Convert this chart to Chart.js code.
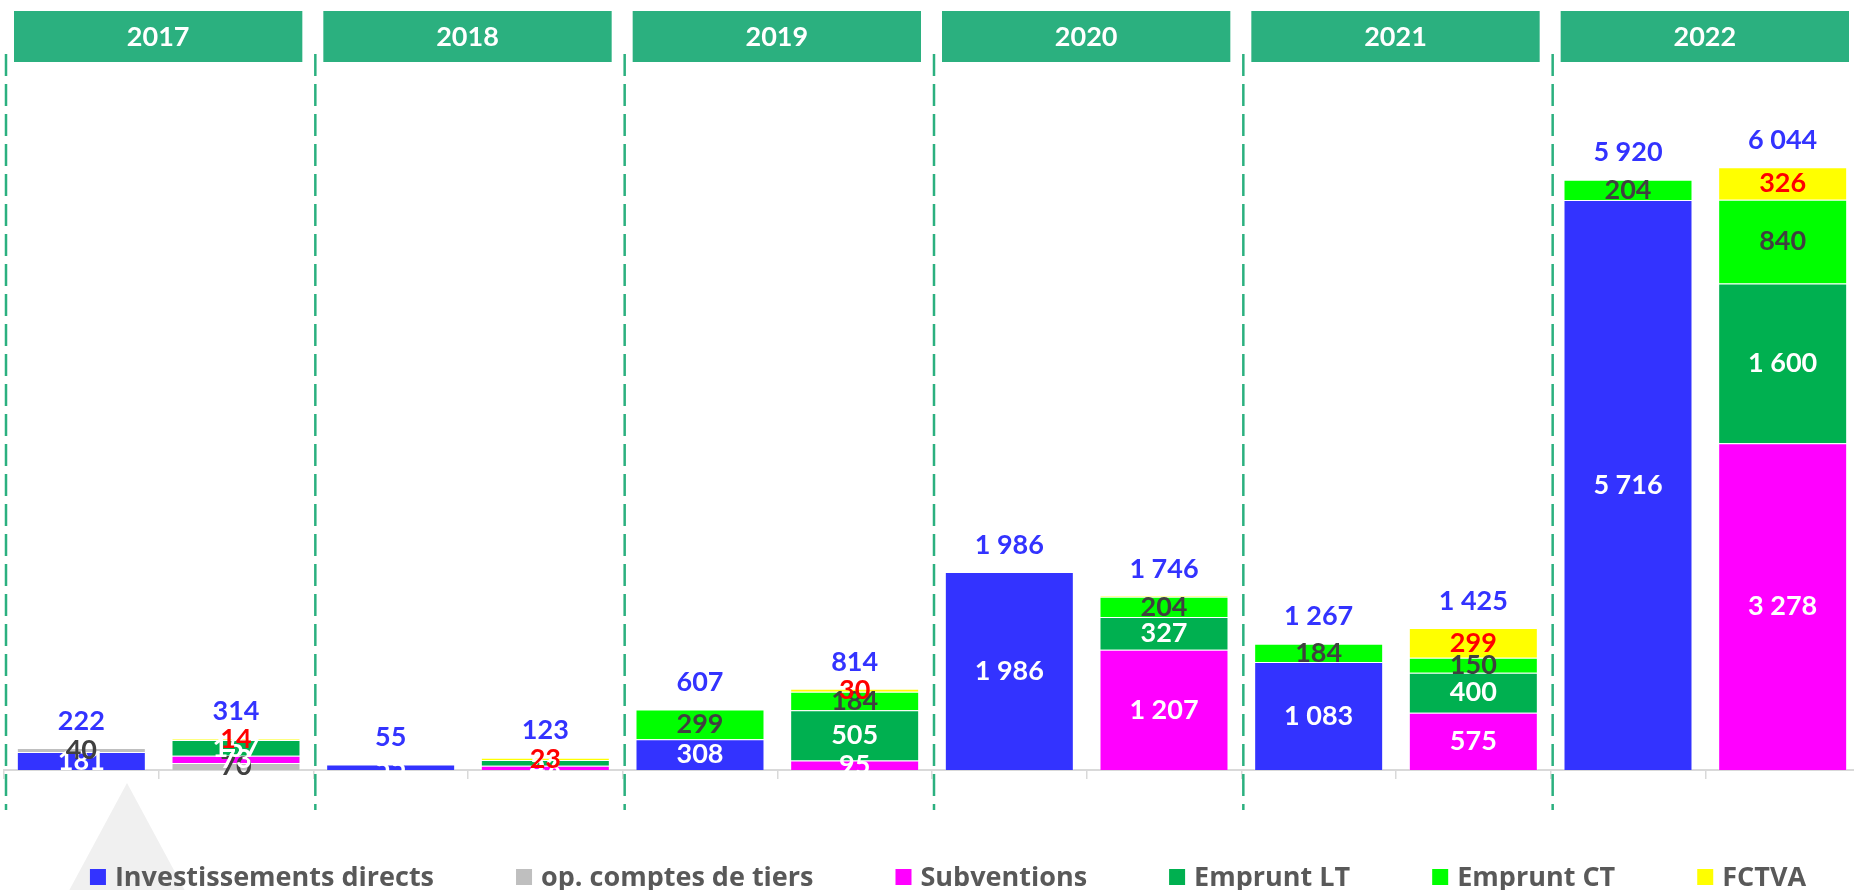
<!DOCTYPE html>
<html>
<head>
<meta charset="utf-8">
<script src="https://cdn.jsdelivr.net/npm/chart.js@4.4.1/dist/chart.umd.min.js"></script>
<style>
  html, body { margin: 0; padding: 0; background: #fff; overflow: hidden; }
  #wrap { position: relative; width: 1894px; height: 890px; }
</style>
</head>
<body>
<div id="wrap"><canvas id="myChart"></canvas></div>
<script>
// categories: two bars per year (dépenses / recettes)
let years = ['2017', '2018', '2019', '2020', '2021', '2022'];
let categories = ['D 2017', 'R 2017', 'D 2018', 'R 2018', 'D 2019', 'R 2019',
                  'D 2020', 'R 2020', 'D 2021', 'R 2021', 'D 2022', 'R 2022'];

// series values (k€)
let investDirects = [181, null, 55, null, 308, null, 1986, null, 1083, null, 5716, null];
let compteTiers   = [40, 70, null, null, null, null, null, null, null, null, null, null];
let subventions   = [null, 73, null, 43, null, 95, null, 1207, null, 575, null, 3278];
let empruntLT     = [null, 157, null, 57, null, 505, null, 327, null, 400, null, 1600];
let empruntCT     = [null, null, null, null, 299, 184, null, 204, 184, 150, 204, 840];
let fctva         = [null, 14, null, 23, null, 30, null, 8, null, 299, null, 326];

// totals shown above each bar
let totals = [222, 314, 55, 123, 607, 814, 1986, 1746, 1267, 1425, 5920, 6044];

let headerGreen = '#2BB07F';
let labelFont = '700 27px Lato';

function fmt(v) {
    return String(v).replace(/\B(?=(\d{3})+(?!\d))/g, ' ');
}

// year headers, dashed separators, legend, grey triangle
let decoPlugin = {
    id: 'deco',
    beforeDraw(chart) {
        let ctx = chart.ctx;
        ctx.save();
        ctx.fillStyle = '#F0F0F0';
        ctx.beginPath();
        ctx.moveTo(127, 783);
        ctx.lineTo(190, 900);
        ctx.lineTo(64, 900);
        ctx.closePath();
        ctx.fill();
        ctx.restore();
    },
    beforeDatasetsDraw(chart) {
        let ctx = chart.ctx;
        let area = chart.chartArea;
        let catW = (area.right - area.left) / categories.length;
        ctx.save();
        years.forEach((y, g) => {
            let left = area.left + g * 2 * catW;
            let right = left + 2 * catW;
            // dashed separator
            ctx.strokeStyle = headerGreen;
            ctx.lineWidth = 2.5;
            ctx.setLineDash([22, 8]);
            ctx.beginPath();
            ctx.moveTo(left + 2, 54);
            ctx.lineTo(left + 2, 810);
            ctx.stroke();
            ctx.setLineDash([]);
            // header box
            ctx.fillStyle = headerGreen;
            ctx.fillRect(left + 10, 11, right - left - 21, 51);
            ctx.fillStyle = '#fff';
            ctx.font = '700 27px Lato';
            ctx.textAlign = 'center';
            ctx.textBaseline = 'middle';
            ctx.fillText(y, (left + 10 + right - 11) / 2, 37);
        });
        ctx.restore();
    },
    afterDatasetsDraw(chart) {
        let ctx = chart.ctx;
        let yScale = chart.scales.y;
        ctx.save();
        ctx.font = labelFont;
        ctx.textAlign = 'center';
        ctx.textBaseline = 'middle';
        // values inside the segments
        chart.data.datasets.forEach((ds, i) => {
            let meta = chart.getDatasetMeta(i);
            meta.data.forEach((bar, j) => {
                let v = ds.data[j];
                if (v == null || v < 10) return;
                ctx.fillStyle = ds.labelColor;
                ctx.fillText(fmt(v), bar.x, (bar.y + bar.base) / 2);
            });
        });
        // totals
        let meta0 = chart.getDatasetMeta(0);
        ctx.fillStyle = '#3333FF';
        totals.forEach((t, j) => {
            let sum = 0;
            chart.data.datasets.forEach(ds => { sum += ds.data[j] || 0; });
            let top = yScale.getPixelForValue(sum);
            ctx.fillText(fmt(t), meta0.data[j].x, top - 27);
        });

        // legend at the bottom
        ctx.font = '700 27px "Open Sans"';
        ctx.textAlign = 'left';
        let gap = 82;
        let widths = chart.data.datasets.map(ds => 16 + 9 + ctx.measureText(ds.label).width);
        let total = widths.reduce((a, b) => a + b, 0) + gap * (widths.length - 1);
        let x = 948 - total / 2;
        let ly = 877;
        chart.data.datasets.forEach((ds, i) => {
            ctx.fillStyle = ds.backgroundColor;
            ctx.fillRect(x, ly - 8, 16, 16);
            ctx.fillStyle = '#595959';
            ctx.fillText(ds.label, x + 25, ly + 1);
            x += widths[i] + gap;
        });
        ctx.restore();
    }
};

function makeSet(label, data, color, labelColor) {
    return {
        label: label,
        data: data,
        backgroundColor: color,
        borderColor: 'rgba(255,255,255,0.35)',
        borderWidth: 1,
        labelColor: labelColor,
        stack: 's'
    };
}

let ctx = document.getElementById('myChart').getContext('2d');

let myChart = new Chart(ctx, {
    type: 'bar',
    data: {
        labels: categories,
        datasets: [
            makeSet('Investissements directs', investDirects, '#3333FF', '#FFFFFF'),
            makeSet('op. comptes de tiers', compteTiers, '#BFBFBF', '#404040'),
            makeSet('Subventions', subventions, '#FF00FF', '#FFFFFF'),
            makeSet('Emprunt LT', empruntLT, '#00B050', '#FFFFFF'),
            makeSet('Emprunt CT', empruntCT, '#00FF00', '#404040'),
            makeSet('FCTVA', fctva, '#FFFF00', '#FF0000')
        ]
    },
    options: {
        responsive: true,
        maintainAspectRatio: false,
        animation: false,
        layout: { padding: { left: 4, right: 34, top: 72, bottom: 111 } },
        datasets: {
            bar: { categoryPercentage: 1, barPercentage: 0.834 }
        },
        plugins: {
            legend: { display: false },
            tooltip: { enabled: false }
        },
        scales: {
            x: {
                stacked: true,
                ticks: { display: false },
                grid: {
                    offset: true,
                    drawOnChartArea: false,
                    drawTicks: true,
                    tickLength: 9,
                    color: '#D9D9D9',
                    lineWidth: 1.5
                },
                border: { display: true, color: '#D9D9D9', width: 2 }
            },
            y: {
                stacked: true,
                display: false,
                min: 0,
                max: 7000
            }
        }
    },
    plugins: [decoPlugin]
});
</script>
</body>
</html>
